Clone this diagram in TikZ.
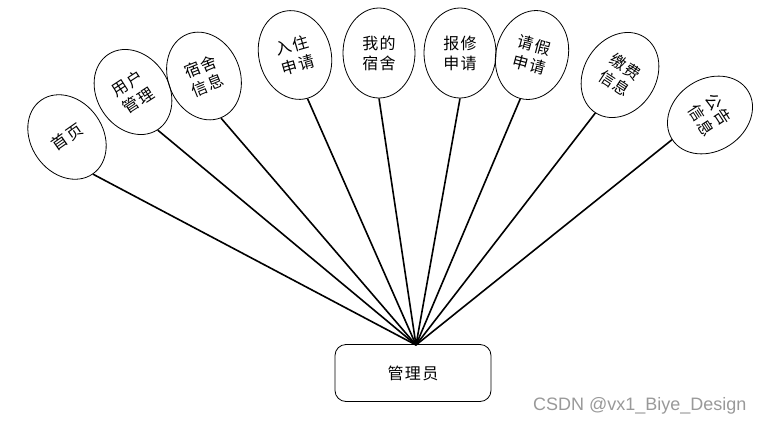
\documentclass[tikz,border=0pt]{standalone}
\usepackage{fontspec}
\newfontfamily\cjk[LetterSpace=8]{Noto Sans CJK SC}
\newfontfamily\wm{Liberation Sans}
\usetikzlibrary{shapes.geometric}
\tikzset{
  oval/.style={draw, ellipse, line width=0.8pt, minimum width=72pt, minimum height=90pt,
    inner sep=0pt, align=center, font=\cjk\fontsize{16}{20}\selectfont},
  link/.style={line width=1.6pt},
  adminbox/.style={draw, rounded corners=11pt, line width=0.8pt, minimum width=156pt,
    minimum height=57pt, inner sep=0pt, font=\cjk\fontsize{16}{20}\selectfont}
}
\begin{document}
\begin{tikzpicture}[x=1pt,y=1pt]
\useasboundingbox (0,0) rectangle (766,-423);
\node[oval, rotate=35] (n1) at (67,-137) {首页};
\node[oval, rotate=33] (n2) at (133,-92) {用户\\管理};
\node[oval, rotate=22] (n3) at (204,-76) {宿舍\\信息};
\node[oval, rotate=16] (n4) at (295,-55) {入住\\申请};
\node[oval] (n5) at (379,-53) {我的\\宿舍};
\node[oval] (n6) at (460,-53) {报修\\申请};
\node[oval, rotate=-15] (n7) at (532,-55) {请假\\申请};
\node[oval, rotate=-33] (n8) at (620,-75) {缴费\\信息};
\node[oval, rotate=-57] (n9) at (710,-115) {公告\\信息};
\node[adminbox] (admin) at (413,-373) {管理员};
\coordinate (hub) at (416,-345);
\foreach \n in {n1,n2,n3,n4,n5,n6,n7,n8,n9}
  \draw[link] (\n.south) -- (hub);
\node[anchor=base east, text=black!40, font=\wm\fontsize{18}{20}\selectfont] (mark) at (750,-410) {CSDN @vx1\_Biye\_Design};
\end{tikzpicture}
\end{document}
